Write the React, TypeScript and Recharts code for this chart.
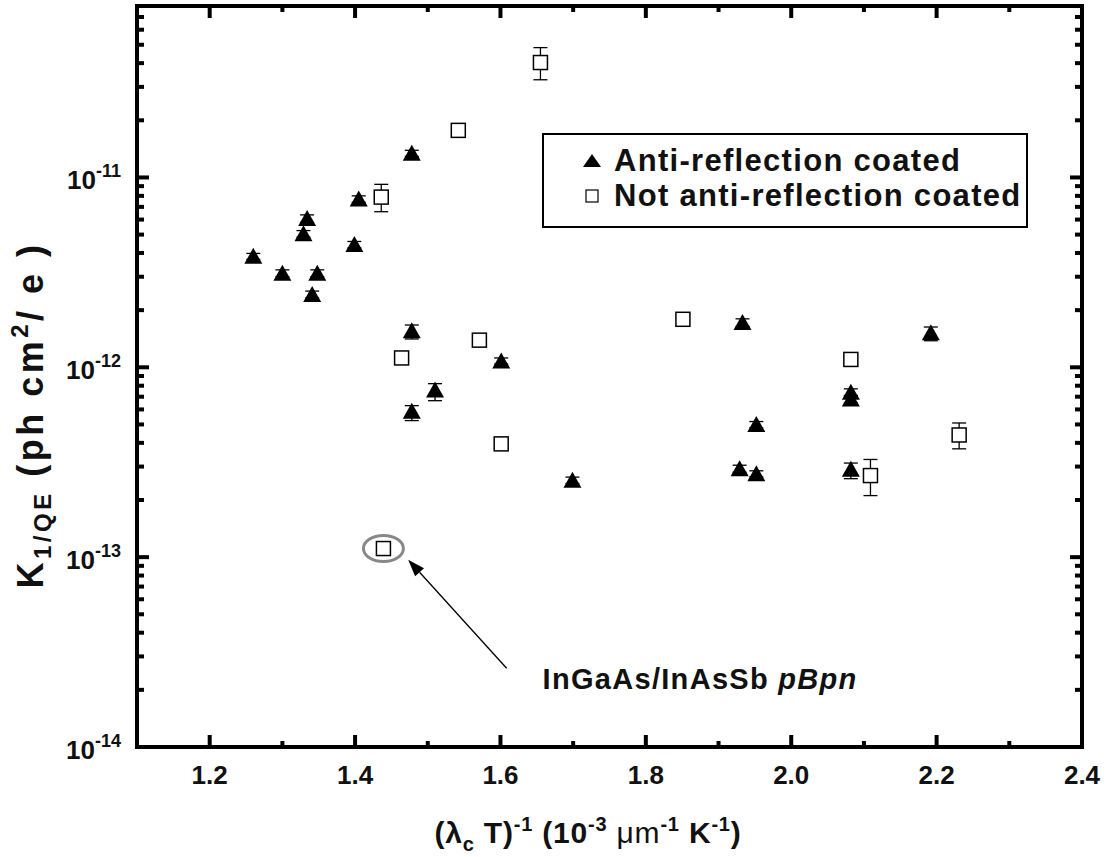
import React from 'react';
import {
  ScatterChart,
  Scatter,
  XAxis,
  YAxis,
  ErrorBar,
  ReferenceArea,
  ReferenceDot,
  ReferenceLine,
  Legend,
  Label,
} from 'recharts';

const FONT = '"Liberation Sans", Arial, Helvetica, sans-serif';

// Anti-reflection coated devices
const arX = [1.26, 1.3, 1.329, 1.334, 1.341, 1.348, 1.399, 1.405, 1.478, 1.478, 1.478, 1.51, 1.601, 1.699, 1.929, 1.933, 1.952, 1.952, 2.082, 2.082, 2.082, 2.192];
const arK = [3.84e-12, 3.13e-12, 5.05e-12, 6.07e-12, 2.42e-12, 3.13e-12, 4.43e-12, 7.7e-12, 1.34e-11, 1.56e-12, 5.86e-13, 7.6e-13, 1.08e-12, 2.54e-13, 2.92e-13, 1.72e-12, 4.99e-13, 2.75e-13, 7.4e-13, 6.8e-13, 2.9e-13, 1.52e-12];
const arLow = [3.7e-12, 3.0e-12, 4.85e-12, 5.8e-12, 2.32e-12, 3.0e-12, 4.25e-12, 7.4e-12, 1.29e-11, 1.41e-12, 5.24e-13, 6.67e-13, 1.04e-12, 2.44e-13, 2.8e-13, 1.64e-12, 4.8e-13, 2.65e-13, 7.1e-13, 6.5e-13, 2.59e-13, 1.38e-12];
const arHigh = [3.98e-12, 3.26e-12, 5.25e-12, 6.35e-12, 2.52e-12, 3.26e-12, 4.6e-12, 8.0e-12, 1.39e-11, 1.67e-12, 6.28e-13, 8.2e-13, 1.12e-12, 2.64e-13, 3.05e-13, 1.8e-12, 5.18e-13, 2.85e-13, 7.7e-13, 7.1e-13, 3.13e-13, 1.63e-12];

// Devices without anti-reflection coating
const narX = [1.436, 1.439, 1.464, 1.542, 1.571, 1.601, 1.655, 1.851, 2.082, 2.109, 2.231];
const narK = [7.88e-12, 1.11e-13, 1.12e-12, 1.77e-11, 1.39e-12, 3.95e-13, 4.03e-11, 1.79e-12, 1.1e-12, 2.69e-13, 4.4e-13];
const narLow = [6.6e-12, 1.11e-13, 1.06e-12, 1.68e-11, 1.33e-12, 3.95e-13, 3.27e-11, 1.71e-12, 1.05e-12, 2.11e-13, 3.72e-13];
const narHigh = [9.2e-12, 1.11e-13, 1.18e-12, 1.86e-11, 1.45e-12, 3.95e-13, 4.83e-11, 1.87e-12, 1.15e-12, 3.27e-13, 5.09e-13];

const xTicks = [1.2, 1.3, 1.4, 1.5, 1.6, 1.7, 1.8, 1.9, 2.0, 2.1, 2.2, 2.3, 2.4];
const yTicks = [
  1e-14, 2e-14, 3e-14, 4e-14, 5e-14, 6e-14, 7e-14, 8e-14, 9e-14,
  1e-13, 2e-13, 3e-13, 4e-13, 5e-13, 6e-13, 7e-13, 8e-13, 9e-13,
  1e-12, 2e-12, 3e-12, 4e-12, 5e-12, 6e-12, 7e-12, 8e-12, 9e-12,
  1e-11, 2e-11, 3e-11, 4e-11, 5e-11, 6e-11, 7e-11, 8e-11,
];

// highlighted device and its callout arrow
const marked = { x: 1.439, k: 1.11e-13 };
const arrowFrom = { x: 1.6085, k: 2.6e-14 };
const arrowTo = { x: 1.473, k: 9.7e-14 };

const toRows = (xs: number[], ks: number[], lo: number[], hi: number[]) =>
  xs.map((x, i) => ({ x, k: ks[i], err: [ks[i] - lo[i], hi[i] - ks[i]] }));

const arData = toRows(arX, arK, arLow, arHigh);
const narData = toRows(narX, narK, narLow, narHigh);

const W = 1111;
const H = 857;
const PLOT_LEFT = 137;
const PLOT_RIGHT = 1082;
const PLOT_TOP = 6;
const PLOT_BOTTOM = 747;
const AXIS_SIZE = 30;

const Triangle = (props: any) => {
  const { cx, cy } = props;
  return <polygon points={`${cx},${cy - 8.5} ${cx - 9},${cy + 7.5} ${cx + 9},${cy + 7.5}`} fill="#000" />;
};

const Square = (props: any) => {
  const { cx, cy } = props;
  return <rect x={cx - 7} y={cy - 7} width={14} height={14} fill="#fff" stroke="#000" strokeWidth={1.5} />;
};

const XTick = (props: any) => {
  const { x, payload } = props;
  const v = payload.value;
  const major = Math.round(v * 10) % 2 === 0;
  const len = major ? 12 : 6;
  return (
    <g>
      <line x1={x} x2={x} y1={PLOT_BOTTOM} y2={PLOT_BOTTOM - len} stroke="#000" strokeWidth={4} />
      <line x1={x} x2={x} y1={PLOT_TOP} y2={PLOT_TOP + len} stroke="#000" strokeWidth={4} />
      {major && (
        <text x={x} y={PLOT_BOTTOM + 37} textAnchor="middle" fontFamily={FONT} fontWeight="bold" fontSize={26} fill="#111">
          {v.toFixed(1)}
        </text>
      )}
    </g>
  );
};

const YTick = (props: any) => {
  const { y, payload } = props;
  const e = Math.log10(payload.value);
  const major = Math.abs(e - Math.round(e)) < 1e-6;
  const len = major ? 12 : 7;
  return (
    <g>
      <line x1={PLOT_LEFT} x2={PLOT_LEFT + len} y1={y} y2={y} stroke="#000" strokeWidth={4} />
      <line x1={PLOT_RIGHT} x2={PLOT_RIGHT - len} y1={y} y2={y} stroke="#000" strokeWidth={4} />
      {major && (
        <text x={PLOT_LEFT - 16} y={y + 12} textAnchor="end" fontFamily={FONT} fontWeight="bold" fontSize={26} fill="#111">
          10
          <tspan fontSize={18} dy={-12}>
            {Math.round(e)}
          </tspan>
        </text>
      )}
    </g>
  );
};

const XTitle = () => (
  <text x={588} y={843} textAnchor="middle" fontFamily={FONT} fontWeight="bold" fontSize={30} letterSpacing={0.8} fill="#111">
    (λ
    <tspan fontSize={20} dy={8}>c</tspan>
    <tspan dy={-8}> T)</tspan>
    <tspan fontSize={20} dy={-12}>-1</tspan>
    <tspan dy={12}> (10</tspan>
    <tspan fontSize={20} dy={-12}>-3</tspan>
    <tspan dy={12} fontWeight="normal"> μm</tspan>
    <tspan fontSize={20} dy={-12}>-1</tspan>
    <tspan dy={12}> K</tspan>
    <tspan fontSize={20} dy={-12}>-1</tspan>
    <tspan dy={12}>)</tspan>
  </text>
);

const YTitle = () => (
  <text
    x={0}
    y={0}
    transform="translate(43 415) rotate(-90)"
    textAnchor="middle"
    fontFamily={FONT}
    fontWeight="bold"
    fontSize={36}
    letterSpacing={3.5}
    fill="#111"
  >
    K
    <tspan fontSize={24} dy={8}>1/QE</tspan>
    <tspan dy={-8}> (ph cm</tspan>
    <tspan fontSize={24} dy={-15}>2</tspan>
    <tspan dy={15}>/ e )</tspan>
  </text>
);

const Callout = (props: any) => {
  const { x1, y1, x2, y2 } = props;
  const ang = Math.atan2(y2 - y1, x2 - x1);
  const hl = 17;
  const hw = 6;
  const bx = x2 - hl * Math.cos(ang);
  const by = y2 - hl * Math.sin(ang);
  const px = -Math.sin(ang) * hw;
  const py = Math.cos(ang) * hw;
  return (
    <g>
      <line x1={x1} y1={y1} x2={bx} y2={by} stroke="#000" strokeWidth={1.3} />
      <polygon points={`${x2},${y2} ${bx + px},${by + py} ${bx - px},${by - py}`} fill="#000" />
      <text x={x1 + 351} y={y1 + 21} textAnchor="end" fontFamily={FONT} fontWeight="bold" fontSize={29} letterSpacing={1.3} fill="#111">
        InGaAs/InAsSb <tspan fontStyle="italic">pBpn</tspan>
      </text>
    </g>
  );
};

const Ring = (props: any) => {
  const { cx, cy } = props;
  return <ellipse cx={cx} cy={cy} rx={20} ry={13} fill="none" stroke="#888" strokeWidth={3} />;
};

const LegendBox = (props: any) => {
  const { payload } = props;
  return (
    <div
      style={{
        position: 'relative',
        width: 486,
        height: 95,
        boxSizing: 'border-box',
        border: '2.5px solid #000',
        background: '#fff',
        fontFamily: FONT,
        fontWeight: 'bold',
        fontSize: 31,
        letterSpacing: 1.3,
        color: '#111',
      }}
    >
      {(payload || []).map((entry: any, i: number) => (
        <div
          key={entry.value}
          style={{ position: 'absolute', left: 0, top: 8 + i * 35, height: 35, display: 'flex', alignItems: 'center', whiteSpace: 'nowrap' }}
        >
          <svg width={70} height={35} style={{ display: 'block' }}>
            {i === 0 ? (
              <polygon points="48,11 39,24 57,24" fill="#000" />
            ) : (
              <rect x={42} y={12} width={12} height={12} fill="#fff" stroke="#000" strokeWidth={1.2} />
            )}
          </svg>
          <span>{entry.value}</span>
        </div>
      ))}
    </div>
  );
};

export default function App() {
  return (
    <div style={{ position: 'absolute', left: 0, top: 0, width: W, height: H, background: '#fff' }}>
      <ScatterChart
        width={W}
        height={H}
        margin={{
          top: PLOT_TOP,
          right: W - PLOT_RIGHT,
          bottom: H - PLOT_BOTTOM - AXIS_SIZE,
          left: PLOT_LEFT - AXIS_SIZE,
        }}
      >
        <XAxis
          type="number"
          dataKey="x"
          domain={[1.1, 2.4]}
          ticks={xTicks}
          height={AXIS_SIZE}
          axisLine={false}
          tickLine={false}
          tick={<XTick />}
          interval={0}
          allowDataOverflow
        >
          <Label content={<XTitle />} />
        </XAxis>
        <YAxis
          type="number"
          dataKey="k"
          scale="log"
          domain={[1e-14, 8e-11]}
          ticks={yTicks}
          width={AXIS_SIZE}
          axisLine={false}
          tickLine={false}
          tick={<YTick />}
          interval={0}
          allowDataOverflow
        >
          <Label content={<YTitle />} />
        </YAxis>
        <ReferenceArea
          x1={1.1}
          x2={2.4}
          y1={1e-14}
          y2={8e-11}
          fill="none"
          fillOpacity={0}
          stroke="#000"
          strokeWidth={4}
          ifOverflow="visible"
        />
        <Legend
          layout="vertical"
          align="center"
          verticalAlign="middle"
          wrapperStyle={{ left: 542, top: 133, width: 486 }}
          content={<LegendBox />}
        />
        <Scatter name="Anti-reflection coated" data={arData} shape={<Triangle />} isAnimationActive={false}>
          <ErrorBar dataKey="err" direction="y" width={7} stroke="#000" strokeWidth={1.3} />
        </Scatter>
        <Scatter name="Not anti-reflection coated" data={narData} shape={<Square />} isAnimationActive={false}>
          <ErrorBar dataKey="err" direction="y" width={7} stroke="#000" strokeWidth={1.3} />
        </Scatter>
        <ReferenceDot x={marked.x} y={marked.k} shape={<Ring />} ifOverflow="visible" />
        <ReferenceLine
          segment={[
            { x: arrowFrom.x, y: arrowFrom.k },
            { x: arrowTo.x, y: arrowTo.k },
          ]}
          shape={<Callout />}
          ifOverflow="visible"
        />
      </ScatterChart>
    </div>
  );
}
